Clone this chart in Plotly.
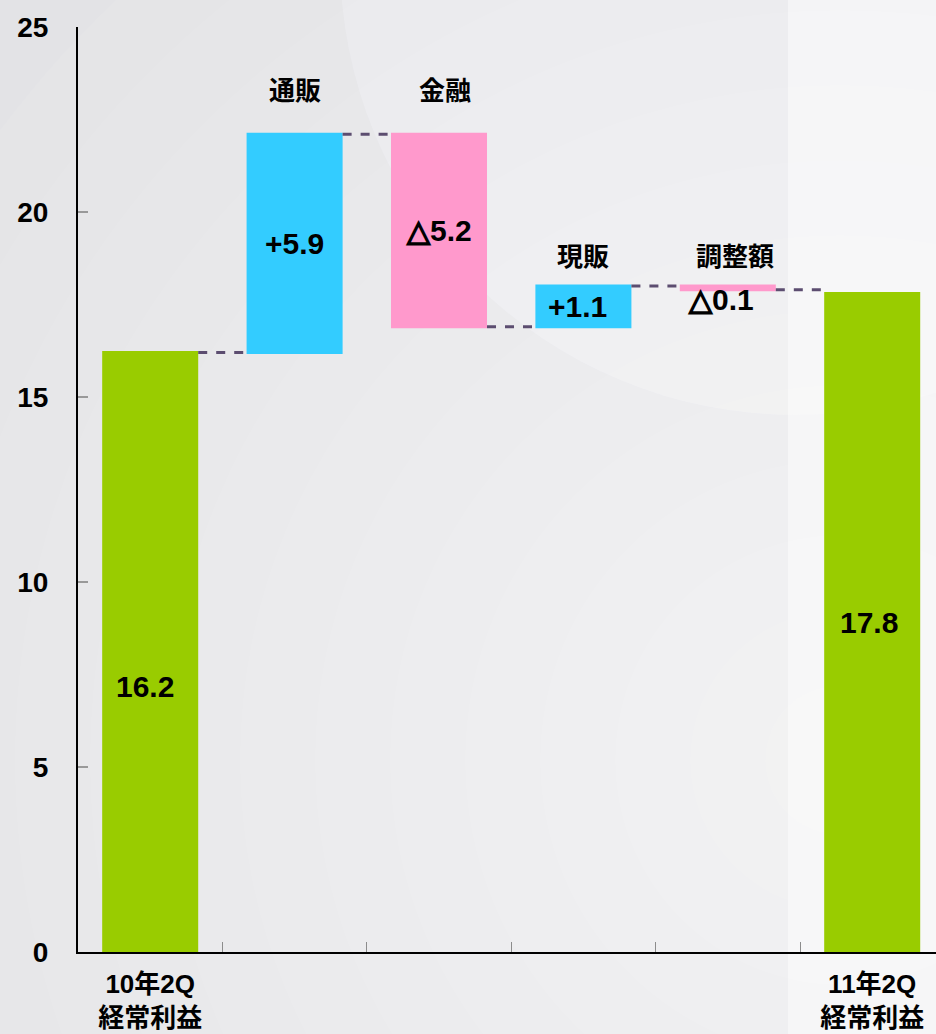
import plotly.graph_objects as go

# 経常利益の増減要因（億円）
categories = ["10年2Q<br>経常利益", "通販", "金融", "現販", "調整額", "11年2Q<br>経常利益"]
measures = ["absolute", "relative", "relative", "relative", "relative", "absolute"]
values = [16.2, 5.9, -5.2, 1.1, -0.1, 17.8]
y_ticks = [0, 5, 10, 15, 20, 25]

FONT = "Liberation Sans, Arial, Noto Sans CJK JP, sans-serif"
TRI_STYLE = "font-family:DejaVu Sans;stroke:black;stroke-width:1.6px"
GREEN, CYAN, PINK = "#99cc00", "#33ccff", "#ff99cc"

W, H = 936, 1034
ML, MR, MT, MB = 78, 0, 27, 82

x_pos = list(range(len(categories)))

# start / end level of every bar
starts, ends = [], []
level = 0.0
for m, v in zip(measures, values):
    s, e = (0.0, v) if m == "absolute" else (level, level + v)
    starts.append(s)
    ends.append(e)
    level = e


def fmt(m, v):
    if m == "absolute":
        return f"{v:.1f}"
    if v > 0:
        return f"+{v:.1f}"
    return f'<span style="{TRI_STYLE}">△</span>{abs(v):.1f}'


fig = go.Figure(go.Waterfall(
    x=x_pos,
    y=values,
    measure=measures,
    width=0.665,
    increasing=dict(marker=dict(color=CYAN, line=dict(width=0))),
    decreasing=dict(marker=dict(color=PINK, line=dict(width=0))),
    totals=dict(marker=dict(color=GREEN, line=dict(width=0))),
    connector=dict(mode="between", line=dict(color="#5c4d70", width=3, dash="dash")),
    textinfo="none",
    hoverinfo="skip",
))

# value labels on the bars
label_yshift = [-34, 0, 0, 0, -12, 0]
label_xshift = [-5, 0, 0, -6, -6, -3]
for i, (m, v) in enumerate(zip(measures, values)):
    fig.add_annotation(
        x=x_pos[i], y=(starts[i] + ends[i]) / 2, text=fmt(m, v),
        showarrow=False, xshift=label_xshift[i], yshift=label_yshift[i],
        font=dict(family=FONT, size=30, color="black", weight="bold"),
    )

# segment names above the change bars
name_yshift = {1: 43, 2: 43, 3: 29, 4: 29}
name_xshift = {1: 0, 2: 6, 3: 0, 4: 7}
for i in name_yshift:
    fig.add_annotation(
        x=x_pos[i], y=max(starts[i], ends[i]), text=categories[i],
        showarrow=False, yshift=name_yshift[i], xshift=name_xshift[i],
        font=dict(family=FONT, size=26, color="black", weight="bold"),
    )

# soft background: grey that brightens toward the lower right, with a pale disc
pw, ph = W - ML - MR, H - MT - MB


def px(x):
    return (x - ML) / pw


def py(y):
    return (H - MB - y) / ph


def disc(cx, cy, r, **kw):
    return dict(type="circle", xref="paper", yref="paper",
                x0=px(cx - r), x1=px(cx + r), y0=py(cy + r), y1=py(cy - r),
                line=dict(width=0), layer="below", **kw)


shapes = [disc(795, -40, 455, fillcolor="#e8e8eb")]
for r in range(1050, 60, -75):
    shapes.append(disc(840, 760, r, fillcolor="white", opacity=0.07))
shapes.append(dict(type="rect", xref="paper", yref="paper",
                   x0=px(788), x1=px(W), y0=py(H), y1=py(0),
                   fillcolor="white", opacity=0.45, line=dict(width=0),
                   layer="below"))

fig.update_layout(
    width=W, height=H,
    margin=dict(l=ML, r=MR, t=MT, b=MB, pad=0, autoexpand=False),
    paper_bgcolor="#e3e3e6",
    plot_bgcolor="rgba(0,0,0,0)",
    showlegend=False,
    shapes=shapes,
    xaxis=dict(
        range=[-0.5, -0.5 + pw / 144.4],
        automargin=False,
        showgrid=False, zeroline=False,
        showline=True, linecolor="black", linewidth=2,
        tickmode="array", tickvals=[x_pos[0], x_pos[-1]],
        ticktext=[categories[0], categories[-1]],
        ticks="", ticklabelstandoff=8,
        tickfont=dict(family=FONT, size=26, color="black", weight="bold"),
        minor=dict(tickmode="array",
                   tickvals=[p + 0.5 for p in x_pos[:-1]],
                   ticks="inside", ticklen=10, tickwidth=1, tickcolor="#8c8c8c",
                   showgrid=False),
    ),
    yaxis=dict(
        range=[0, 25],
        automargin=False,
        tickmode="array", tickvals=y_ticks,
        showgrid=False, zeroline=False,
        showline=True, linecolor="black", linewidth=2,
        ticks="inside", ticklen=10, tickwidth=2, tickcolor="#999999",
        ticklabelstandoff=22,
        tickfont=dict(family=FONT, size=28, color="black", weight="bold"),
    ),
)

fig.write_html("out.html")
